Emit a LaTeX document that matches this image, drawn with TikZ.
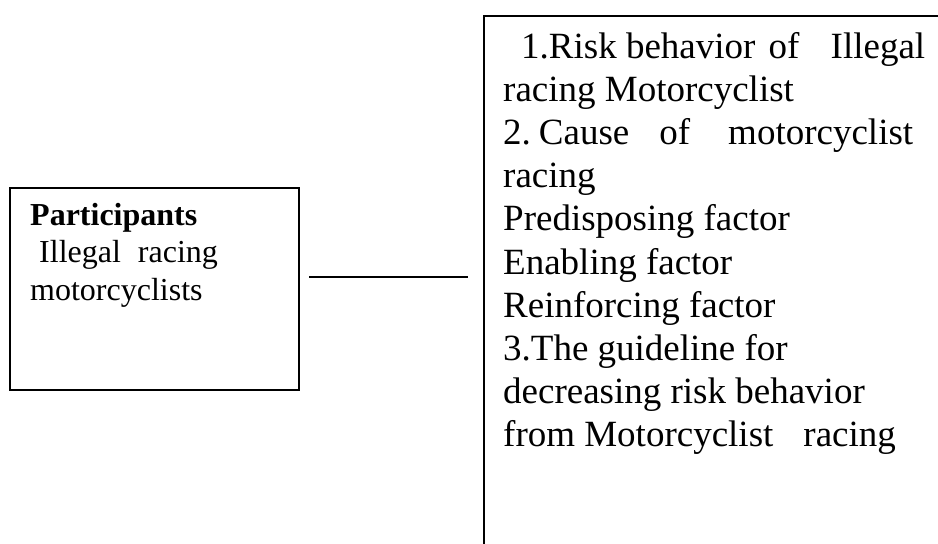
\documentclass[tikz,border=0pt]{standalone}
\usepackage{fontspec}
\setmainfont{Liberation Serif}
\begin{document}
\begin{tikzpicture}[x=1pt,y=-1pt,
  box/.style={draw, line width=1.8pt, inner sep=0pt, anchor=north west},
  conn/.style={line width=1.8pt},
  txt/.style={anchor=base west, inner sep=0pt}]
\useasboundingbox (0,0) rectangle (938,544);
\clip (0,0) rectangle (938,544);
% boxes
\node[box, minimum width=289pt, minimum height=202pt] (part) at (9,187) {};
\node[box, minimum width=480pt, minimum height=570pt] (study) at (483,15) {};
% texts
\node[txt, font=\fontsize{32pt}{37.5pt}\selectfont] (parttext) at (30,225)
  {\vtop{\baselineskip=37.5pt
    \hbox{\bfseries Participants}
    \hbox{\hspace{9pt}Illegal\hspace{17pt}racing}
    \hbox{motorcyclists}}};
\node[txt, font=\fontsize{37pt}{43.2pt}\selectfont] (studytext) at (503,58)
  {\vtop{\baselineskip=43.2pt
    \hbox to 422pt{\hspace{18pt}1.Risk behavior\hspace{0pt plus 20fil}of\hspace{0pt plus 48fil}Illegal}
    \hbox{racing Motorcyclist}
    \hbox to 410pt{2.\hspace{8pt}Cause\hspace{0pt plus 30fil}of\hspace{0pt plus 38fil}motorcyclist}
    \hbox{racing}
    \hbox{Predisposing factor}
    \hbox{Enabling factor}
    \hbox{Reinforcing factor}
    \hbox{3.The guideline for}
    \hbox{decreasing risk behavior}
    \hbox{from Motorcyclist\hspace{30pt}racing}}};
% connector
\coordinate (la) at (309,277);
\coordinate (lb) at (468,277);
\draw[conn] (la) -- (lb);
\end{tikzpicture}
\end{document}
